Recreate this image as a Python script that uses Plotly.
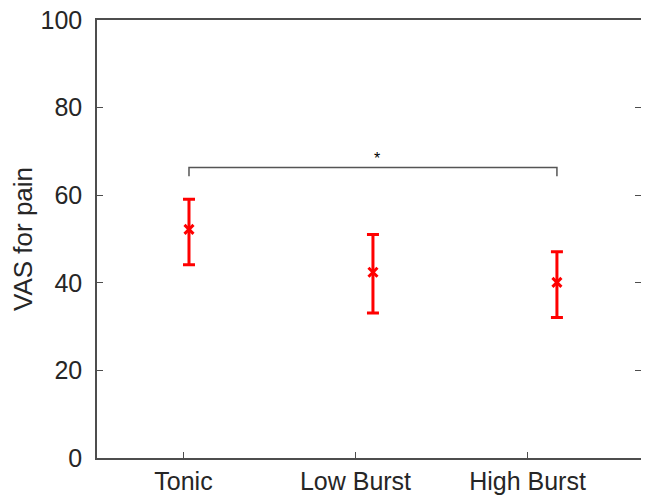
import plotly.graph_objects as go

# group data
groups = ["Tonic", "Low Burst", "High Burst"]
group_pos = [1, 2, 3]
tick_pos = [0.97, 1.905, 2.84]
vas_mean = [52.2, 42.4, 40.1]
vas_upper = [59.1, 51.0, 47.1]
vas_lower = [44.1, 33.1, 32.1]

# significance bracket
bracket_x = [1, 1, 3, 3]
bracket_y = [64.3, 66.3, 66.3, 64.3]
star_x = 2.02
star_y = 68.3

err_plus = [u - m for u, m in zip(vas_upper, vas_mean)]
err_minus = [m - l for m, l in zip(vas_mean, vas_lower)]

fig = go.Figure()

fig.add_trace(go.Scatter(
    x=bracket_x, y=bracket_y, mode="lines",
    line=dict(color="#555555", width=1.5),
    showlegend=False, hoverinfo="skip"))

fig.add_trace(go.Scatter(
    x=group_pos, y=vas_mean, mode="markers",
    marker=dict(symbol="x-thin", size=9, color="red", line=dict(color="red", width=3)),
    error_y=dict(type="data", array=err_plus, arrayminus=err_minus,
                 color="red", thickness=3, width=6),
    showlegend=False))

# dummy trace so the mirrored right-hand ticks appear
fig.add_trace(go.Scatter(x=[None], y=[None], yaxis="y2", showlegend=False))

fig.add_annotation(x=star_x, y=star_y, text="*", showarrow=False,
                   font=dict(size=16, color="black"))

axis_col = "#4d4d4d"
font_fam = "Liberation Sans, Arial, sans-serif"

# page body adds ~8px margin, so the figure is sized to fit inside it
fig.update_layout(
    width=633, height=492,
    margin=dict(l=89, r=0, t=12, b=42, autoexpand=False),
    plot_bgcolor="white", paper_bgcolor="white",
    font=dict(family=font_fam, size=25, color="#262626"),
    xaxis=dict(range=[0.5, 3.457], tickvals=tick_pos, ticktext=groups,
               ticks="inside", ticklen=6, tickcolor=axis_col, automargin=False,
               showline=True, linecolor=axis_col, linewidth=1.5, mirror=True,
               showgrid=False, zeroline=False, ticklabelstandoff=0,
               ticklabeloverflow="allow"),
    yaxis=dict(range=[0, 100], tickvals=[0, 20, 40, 60, 80, 100],
               ticks="inside", ticklen=6, tickcolor=axis_col, automargin=False,
               showline=True, linecolor=axis_col, linewidth=1.5,
               showgrid=False, zeroline=False, ticklabelstandoff=8,
               ticklabeloverflow="allow",
               title=dict(text="VAS for pain", font=dict(size=26), standoff=8)),
    yaxis2=dict(range=[0, 100], tickvals=[0, 20, 40, 60, 80, 100],
                overlaying="y", side="right", anchor="x", automargin=False,
                ticks="inside", ticklen=6, tickcolor=axis_col,
                showticklabels=False, showline=False, showgrid=False, zeroline=False),
)

fig.write_html("out.html")
